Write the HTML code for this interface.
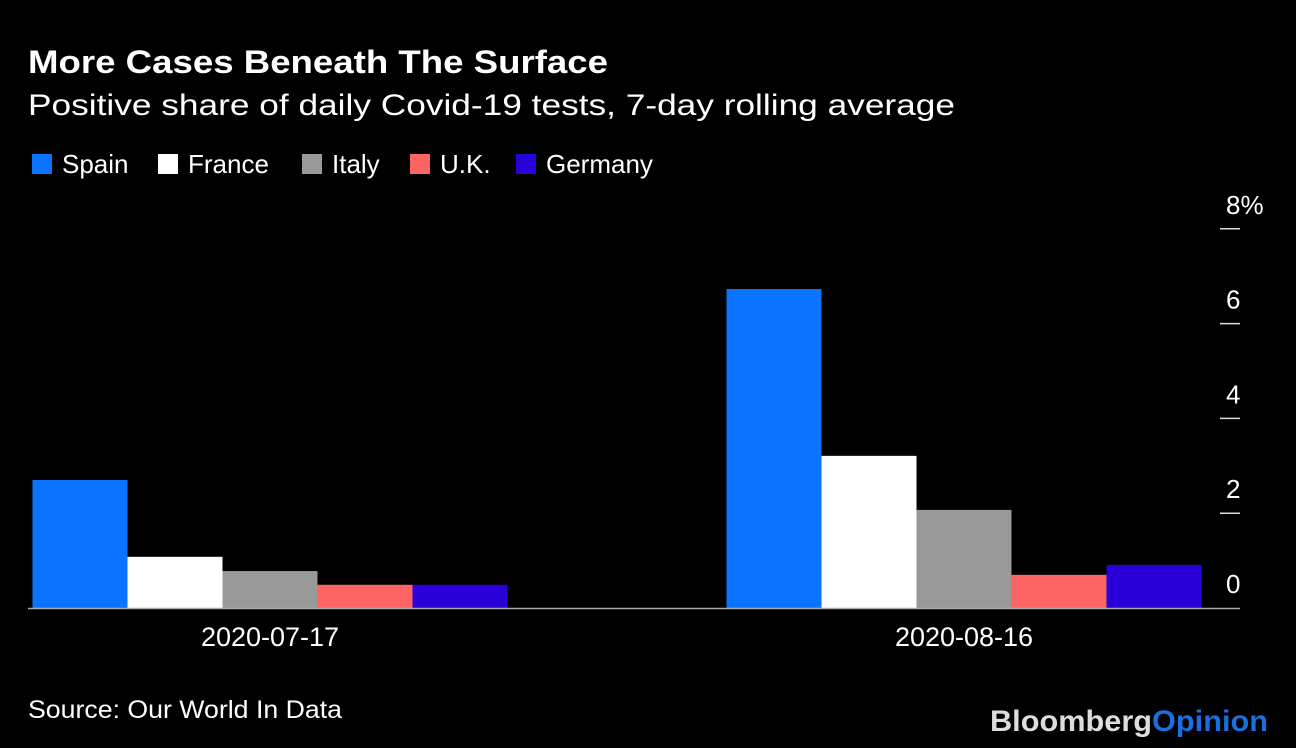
<!DOCTYPE html>
<html><head><meta charset="utf-8"><style>
html,body{margin:0;padding:0;background:#000;}
svg{display:block;font-family:"Liberation Sans",sans-serif;}
</style></head><body>
<svg id="chart" width="1296" height="748" viewBox="0 0 1296 748">
<text x="28" y="73" fill="#fff" font-size="32" font-weight="bold" textLength="580" lengthAdjust="spacingAndGlyphs">More Cases Beneath The Surface</text>
<text x="28" y="115" fill="#fff" font-size="30" textLength="927" lengthAdjust="spacingAndGlyphs">Positive share of daily Covid-19 tests, 7-day rolling average</text>
<g id="legend"></g>
<g id="yaxis"></g>
<g id="bars"></g>
<g id="xaxis"></g>
<text x="28" y="718" fill="#fff" font-size="25" textLength="314" lengthAdjust="spacingAndGlyphs">Source: Our World In Data</text>
<text x="1268" y="731" text-anchor="end" font-size="30" font-weight="bold" textLength="278" lengthAdjust="spacingAndGlyphs"><tspan fill="#ddd">Bloomberg</tspan><tspan fill="#1a6fe0">Opinion</tspan></text>
</svg>
<script>
const categories = ["2020-07-17", "2020-08-16"];
const seriesNames = ["Spain", "France", "Italy", "U.K.", "Germany"];
const spain = [2.7, 6.73];
const france = [1.08, 3.21];
const italy = [0.78, 2.07];
const uk = [0.49, 0.70];
const germany = [0.49, 0.91];
const yTicks = [0, 2, 4, 6, 8];
const yTickLabels = ["0", "2", "4", "6", "8%"];

const colors = ["#0a73ff", "#ffffff", "#999999", "#ff6464", "#2a00d8"];
const series = [spain, france, italy, uk, germany];
const NS = "http://www.w3.org/2000/svg";
function y(v){ return 608 - v * 47.4; }
function groupCenter(i){ return 270 + i * 694; }
const barW = 95;
function mk(tag, attrs, parent){ const e = document.createElementNS(NS, tag); for (const k in attrs) e.setAttribute(k, attrs[k]); parent.appendChild(e); return e; }

const legend = document.getElementById('legend');
const legX = [32, 158, 302, 410, 516];
seriesNames.forEach((n, i) => {
  const r = mk('rect', {x: legX[i], y: 154, width: 20, height: 20, fill: colors[i]}, legend);
  
  
  const t = mk('text', {x: legX[i] + 30, y: 173, fill: '#fff', 'font-size': 26}, legend);
  t.textContent = n;
  
  
});

const ya = document.getElementById('yaxis');
yTicks.forEach((v, i) => {
  if (v !== 0) {
    const l = mk('line', {x1: 1220, x2: 1240, y1: y(v), y2: y(v), stroke: '#ddd', 'stroke-width': 1.5}, ya);
    
    
  }
  const t = mk('text', {x: 1226, y: y(v) - 15, fill: '#fff', 'font-size': 26}, ya);
  t.textContent = yTickLabels[i];
  
  
});

const bars = document.getElementById('bars');
categories.forEach((c, ci) => {
  const left = groupCenter(ci) - barW * series.length / 2;
  series.forEach((s, si) => {
    const r = mk('rect', {x: left + si * barW, y: y(s[ci]), width: barW, height: y(0) - y(s[ci]), fill: colors[si]}, bars);
    
    
  });
});

const xa = document.getElementById('xaxis');
const base = mk('line', {x1: 28, x2: 1240, y1: 608.5, y2: 608.5, stroke: '#aaa', 'stroke-width': 1.5}, xa);


categories.forEach((c, ci) => {
  const t = mk('text', {x: groupCenter(ci), y: 646, fill: '#fff', 'font-size': 27, 'text-anchor': 'middle'}, xa);
  t.textContent = c;
  
  
});
</script>
</body></html>
